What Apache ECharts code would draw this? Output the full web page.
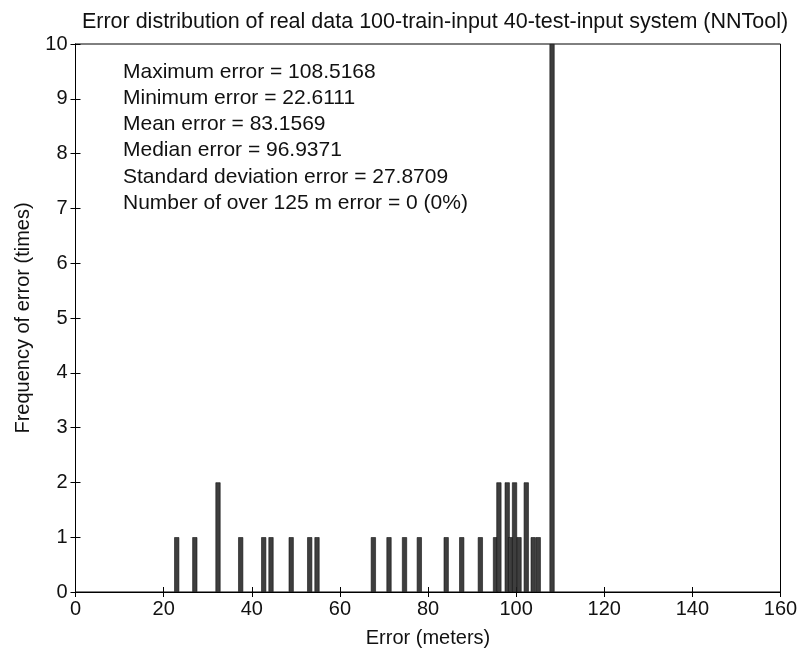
<!DOCTYPE html>
<html>
<head>
<meta charset="utf-8">
<script src="https://cdn.jsdelivr.net/npm/echarts@6/dist/echarts.min.js"></script>
<style>
  html, body { margin: 0; padding: 0; background: #ffffff; }
  #chart { width: 802px; height: 653px; }
</style>
</head>
<body>
<div id="chart"></div>
<script>
// Error values (bin centres, metres) and how many test samples fall in each
const errorBins = [22.97, 27.08, 32.34, 37.49, 42.71, 44.37, 48.95, 53.15, 54.81,
                   67.6, 71.15, 74.67, 78.03, 84.13, 87.65, 91.88,
                   95.32, 96.09, 97.98, 98.74, 99.64, 100.66, 102.3, 103.88, 105.02, 108.15];
const counts    = [1, 1, 2, 1, 1, 1, 1, 1, 1,
                   1, 1, 1, 1, 1, 1, 1,
                   1, 2, 2, 1, 2, 1, 2, 1, 1, 10];

const xTicks = [0, 20, 40, 60, 80, 100, 120, 140, 160];
const yTicks = [0, 1, 2, 3, 4, 5, 6, 7, 8, 9, 10];

const titleText = 'Error distribution of real data 100-train-input 40-test-input system (NNTool)';
const xName = 'Error (meters)';
const yName = 'Frequency of error (times)';
const statLines = [
  'Maximum error = 108.5168',
  'Minimum error = 22.6111',
  'Mean error = 83.1569',
  'Median error = 96.9371',
  'Standard deviation error = 27.8709',
  'Number of over 125 m error = 0 (0%)'
];

const FONT = '"Liberation Sans", Arial, Helvetica, sans-serif';
const chart = echarts.init(document.getElementById('chart'), null, { renderer: 'canvas' });

const tickStyle = { show: true, inside: true, length: 5, lineStyle: { color: '#000', width: 1 } };
const xMin = xTicks[0], xMax = xTicks[xTicks.length - 1];
const xStep = xTicks[1] - xTicks[0];
const yMin = yTicks[0], yMax = yTicks[yTicks.length - 1];
const yStep = yTicks[1] - yTicks[0];

chart.setOption({
  backgroundColor: '#ffffff',
  animation: false,
  title: {
    text: titleText,
    left: 430,
    top: 6,
    textAlign: 'center',
    textStyle: { fontFamily: FONT, fontSize: 21.5, fontWeight: 'normal', color: '#111' }
  },
  grid: {
    left: 75.5, right: 21.5, top: 44, bottom: 57,
    show: true, borderColor: '#000', borderWidth: 1, backgroundColor: 'transparent'
  },
  xAxis: [{
    type: 'value', min: xMin, max: xMax, interval: xStep,
    name: xName, nameLocation: 'middle', nameGap: 36,
    nameTextStyle: { fontFamily: FONT, fontSize: 20, color: '#111' },
    axisLine: { show: true, onZero: false, lineStyle: { color: '#000', width: 1 } },
    axisTick: tickStyle,
    axisLabel: { fontFamily: FONT, fontSize: 20, color: '#111', margin: 7 },
    splitLine: { show: false }
  }, {
    type: 'value', position: 'top', min: xMin, max: xMax, interval: xStep,
    axisLine: { show: true, lineStyle: { color: '#000' } },
    axisTick: tickStyle, axisLabel: { show: false }, splitLine: { show: false }
  }],
  yAxis: [{
    type: 'value', min: yMin, max: yMax, interval: yStep,
    name: yName, nameLocation: 'middle', nameGap: 42, nameRotate: 90,
    nameTextStyle: { fontFamily: FONT, fontSize: 20, color: '#111' },
    axisLine: { show: true, lineStyle: { color: '#000', width: 1 } },
    axisTick: tickStyle,
    axisLabel: { fontFamily: FONT, fontSize: 20, color: '#111', margin: 8 },
    splitLine: { show: false }
  }, {
    type: 'value', position: 'right', min: yMin, max: yMax, interval: yStep,
    axisLine: { show: true, lineStyle: { color: '#000' } },
    axisTick: tickStyle, axisLabel: { show: false }, splitLine: { show: false }
  }],
  graphic: [{
    type: 'text',
    left: 123, top: 59,
    style: {
      text: statLines.join('\n'),
      font: '21px ' + FONT,
      lineHeight: 26.2,
      fill: '#111'
    }
  }],
  series: [{
    type: 'bar',
    xAxisIndex: 0, yAxisIndex: 0,
    barWidth: 5,
    data: errorBins.map((x, i) => [x, counts[i]]),
    itemStyle: { color: '#3e3e3e', borderColor: '#111', borderWidth: 0.6 },
    emphasis: { disabled: true }
  }]
});
</script>
</body>
</html>
